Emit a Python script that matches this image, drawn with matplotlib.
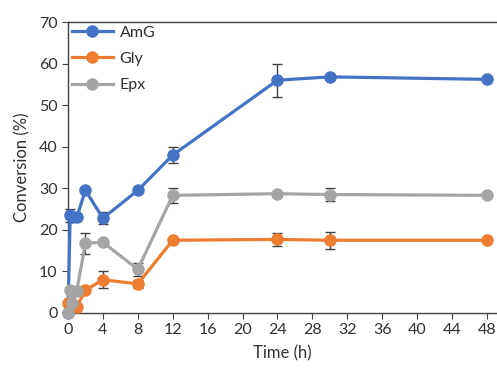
import matplotlib
matplotlib.use("Agg")
import matplotlib.pyplot as plt
from matplotlib.lines import Line2D

times = [0, 0.25, 0.5, 1, 2, 4, 8, 12, 24, 30, 48]
amg = [0, 23.5, 23.2, 23.0, 29.5, 22.8, 29.5, 38.0, 56.0, 56.8, 56.2]
amg_err = [0, 1.5, 0.5, 0.5, 0.5, 1.5, 0.5, 2.0, 4.0, 0.5, 0.5]
gly = [2.5, 2.2, 1.8, 1.5, 5.5, 8.0, 7.0, 17.5, 17.7, 17.5, 17.5]
gly_err = [0.3, 0.3, 0.3, 0.3, 0.5, 2.1, 1.0, 0.3, 1.5, 2.0, 0.3]
epx = [0, 5.5, 2.5, 5.3, 16.8, 17.0, 10.5, 28.3, 28.7, 28.5, 28.3]
epx_err = [0, 0.5, 0.5, 0.5, 2.5, 0.5, 1.5, 1.8, 0.5, 1.5, 0.5]
labels = ["AmG", "Gly", "Epx"]
colors = ["#4472C4", "#ED7D31", "#A5A5A5"]

plt.rcParams['font.family'] = ['Lato', 'DejaVu Sans']

fig = plt.figure(figsize=(4.97, 3.74), dpi=100)
ax = fig.add_axes([68/497, 61/374, 1 - 68/497, (313-22)/374])

series = [(amg, amg_err), (gly, gly_err), (epx, epx_err)]
for (vals, errs), lab, col in zip(series, labels, colors):
    ax.errorbar(times, vals, yerr=errs, color=col, lw=2.3, marker='o', ms=8,
                ecolor='#404040', elinewidth=1, capsize=3.5, capthick=1,
                label=lab, clip_on=False, zorder=3)

ax.set_xlim(0, 49.15)
ax.set_ylim(0, 70)
ax.set_xticks(range(0, 49, 4))
ax.set_yticks(range(0, 71, 10))
ax.spines['right'].set_visible(False)
for s in ['left', 'bottom', 'top']:
    ax.spines[s].set_color('#404040')
    ax.spines[s].set_linewidth(1)
ax.tick_params(direction='out', length=4, color='#404040', labelsize=11.5, labelcolor='#303030')
ax.set_xlabel("Time (h)", fontsize=12, color='#303030', labelpad=6)
ax.set_ylabel("Conversion (%)", fontsize=12, color='#303030', labelpad=6)

hs = [Line2D([0], [0], color=c, lw=2.3, marker='o', ms=8) for c in colors]
ax.legend(hs, labels, loc='upper left', bbox_to_anchor=(-0.01, 1.015), frameon=False,
          fontsize=11.5, labelspacing=0.75, handlelength=2.6, handletextpad=0.4,
          borderaxespad=0.1, labelcolor='#303030')

fig.savefig("out.png", dpi=100)
